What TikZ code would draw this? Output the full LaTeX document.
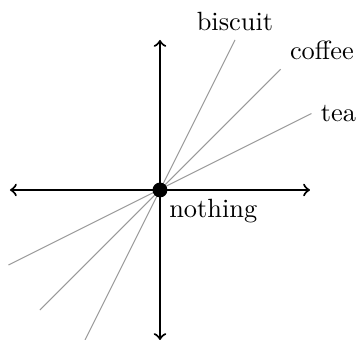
\documentclass[tikz,border=0pt]{standalone}
\usetikzlibrary{positioning}
\begin{document}
\begin{tikzpicture}
        \useasboundingbox (-2.133,-1.987) rectangle (2.667,2.533);
        \draw[thick, <->] (-2, 0) -- (2, 0);
        \draw[thick, <->] (0, -2) -- (0, 2);

        % end points of the lines through the origin
        \coordinate (biscuitlow) at (-1, -2);
        \coordinate (biscuithigh) at (1, 2);
        \coordinate (coffeelow) at (-1.6, -1.6);
        \coordinate (coffeehigh) at (1.61, 1.61);
        \coordinate (tealow) at (-2.02, -1);
        \coordinate (teahigh) at (2.02, 1.02);

        \draw[gray!80] (biscuitlow) -- (biscuithigh);
        \draw[gray!80] (coffeelow) -- (coffeehigh);
        \draw[gray!80] (tealow) -- (teahigh);

        % labels
        \node[above] (biscuit) at (biscuithigh) {biscuit};
        \node[above right] (coffee) at (coffeehigh) {coffee};
        \node[right] (tea) at (teahigh) {tea};

        % the origin
        \node[circle, fill, inner sep=2pt] (o) at (0, 0) {};
        \node[below right] (nothing) at (o.center) {nothing};
    \end{tikzpicture}
\end{document}
